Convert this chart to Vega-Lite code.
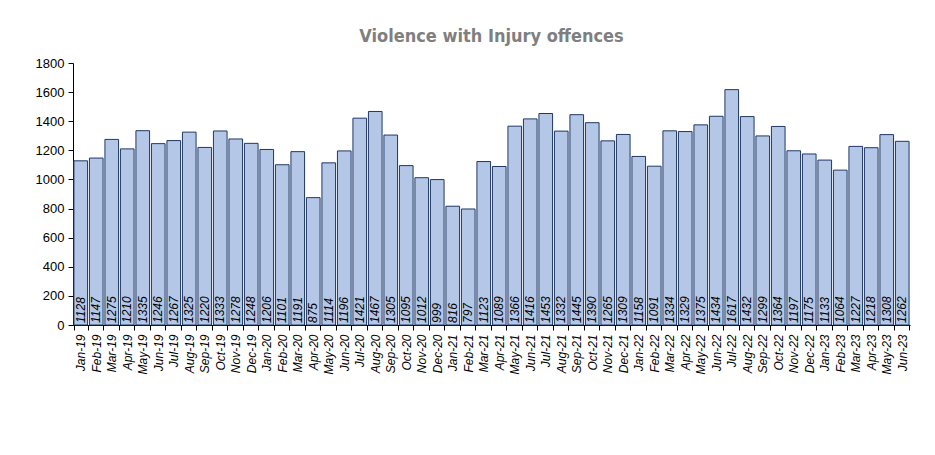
{
  "$schema": "https://vega.github.io/schema/vega-lite/v6.json",
  "width": 837,
  "height": 262,
  "autosize": {"type": "none"},
  "padding": {"left": 73, "top": 63, "right": 25, "bottom": 130},
  "background": "white",
  "config": {"view": {"stroke": null}},
  "title": {
    "text": "Violence with Injury offences",
    "font": "DejaVu Sans Condensed, DejaVu Sans",
    "fontSize": 18,
    "fontWeight": "bold",
    "color": "#7f7f7f",
    "anchor": "middle",
    "offset": 11
  },
  "data": {
    "values": [
      {"month": "Jan-19", "v": 1128}, {"month": "Feb-19", "v": 1147}, {"month": "Mar-19", "v": 1275},
      {"month": "Apr-19", "v": 1210}, {"month": "May-19", "v": 1335}, {"month": "Jun-19", "v": 1246},
      {"month": "Jul-19", "v": 1267}, {"month": "Aug-19", "v": 1325}, {"month": "Sep-19", "v": 1220},
      {"month": "Oct-19", "v": 1333}, {"month": "Nov-19", "v": 1278}, {"month": "Dec-19", "v": 1248},
      {"month": "Jan-20", "v": 1206}, {"month": "Feb-20", "v": 1101}, {"month": "Mar-20", "v": 1191},
      {"month": "Apr-20", "v": 875}, {"month": "May-20", "v": 1114}, {"month": "Jun-20", "v": 1196},
      {"month": "Jul-20", "v": 1421}, {"month": "Aug-20", "v": 1467}, {"month": "Sep-20", "v": 1305},
      {"month": "Oct-20", "v": 1095}, {"month": "Nov-20", "v": 1012}, {"month": "Dec-20", "v": 999},
      {"month": "Jan-21", "v": 816}, {"month": "Feb-21", "v": 797}, {"month": "Mar-21", "v": 1123},
      {"month": "Apr-21", "v": 1089}, {"month": "May-21", "v": 1366}, {"month": "Jun-21", "v": 1416},
      {"month": "Jul-21", "v": 1453}, {"month": "Aug-21", "v": 1332}, {"month": "Sep-21", "v": 1445},
      {"month": "Oct-21", "v": 1390}, {"month": "Nov-21", "v": 1265}, {"month": "Dec-21", "v": 1309},
      {"month": "Jan-22", "v": 1158}, {"month": "Feb-22", "v": 1091}, {"month": "Mar-22", "v": 1334},
      {"month": "Apr-22", "v": 1329}, {"month": "May-22", "v": 1375}, {"month": "Jun-22", "v": 1434},
      {"month": "Jul-22", "v": 1617}, {"month": "Aug-22", "v": 1432}, {"month": "Sep-22", "v": 1299},
      {"month": "Oct-22", "v": 1364}, {"month": "Nov-22", "v": 1197}, {"month": "Dec-22", "v": 1175},
      {"month": "Jan-23", "v": 1133}, {"month": "Feb-23", "v": 1064}, {"month": "Mar-23", "v": 1227},
      {"month": "Apr-23", "v": 1218}, {"month": "May-23", "v": 1308}, {"month": "Jun-23", "v": 1262}
    ]
  },
  "encoding": {
    "x": {
      "field": "month",
      "type": "nominal",
      "sort": null,
      "scale": {"paddingInner": 0.12, "paddingOuter": 0.06},
      "axis": {
        "title": null,
        "labelAngle": 270,
        "labelAlign": "right",
        "labelBaseline": "middle",
        "labelFont": "Liberation Sans",
        "labelFontStyle": "italic",
        "labelFontSize": 12,
        "labelColor": "#000000",
        "labelPadding": 4,
        "labelOverlap": false,
        "tickBand": "extent",
        "tickColor": "#000000",
        "tickSize": 5,
        "domainColor": "#000000"
      }
    }
  },
  "layer": [
    {
      "mark": {"type": "bar", "fill": "#b4c7e7", "stroke": "#1f3864", "strokeWidth": 1},
      "encoding": {
        "y": {
          "field": "v",
          "type": "quantitative",
          "scale": {"domain": [0, 1800], "nice": false},
          "axis": {
            "title": null,
            "values": [0, 200, 400, 600, 800, 1000, 1200, 1400, 1600, 1800],
            "format": "d",
            "labelOverlap": false,
            "grid": false,
            "labelFont": "Liberation Sans Narrow, Liberation Sans",
            "labelFontSize": 13,
            "labelColor": "#000000",
            "tickColor": "#000000",
            "tickSize": 5,
            "domainColor": "#000000",
            "labelPadding": 4
          }
        }
      }
    },
    {
      "mark": {
        "type": "text",
        "angle": 270,
        "align": "left",
        "baseline": "middle",
        "dx": 2,
        "font": "Liberation Sans",
        "fontStyle": "italic",
        "fontSize": 12,
        "color": "#000000"
      },
      "encoding": {
        "y": {
          "datum": 0,
          "type": "quantitative",
          "scale": {"domain": [0, 1800], "nice": false},
          "axis": {
            "title": null,
            "values": [0, 200, 400, 600, 800, 1000, 1200, 1400, 1600, 1800],
            "format": "d",
            "labelOverlap": false,
            "grid": false,
            "labelFont": "Liberation Sans Narrow, Liberation Sans",
            "labelFontSize": 13,
            "labelColor": "#000000",
            "tickColor": "#000000",
            "tickSize": 5,
            "domainColor": "#000000",
            "labelPadding": 4
          }
        },
        "text": {"field": "v", "type": "quantitative"}
      }
    }
  ]
}
